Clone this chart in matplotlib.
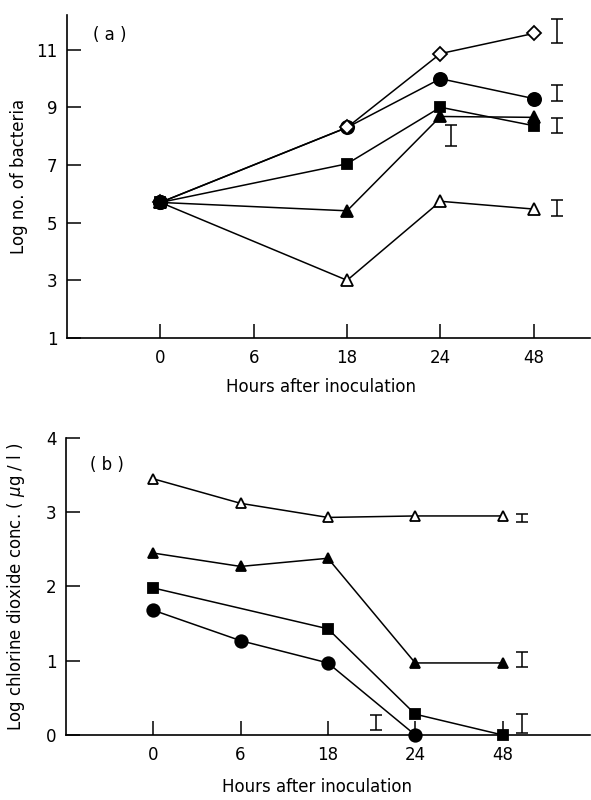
import numpy as np
import matplotlib
matplotlib.use("Agg")
import matplotlib.pyplot as plt

plt.rcParams['font.family'] = ['DejaVu Sans']
plt.rcParams['mathtext.fontset'] = 'dejavusans'

hours = ["0", "6", "18", "24", "48"]

# Panel (a): log number of bacteria (position index -> value); NaN = no point
a_open_diamond = [5.7, np.nan, 8.3, 10.86, 11.56]
a_fill_circle = [5.7, np.nan, 8.3, 9.99, 9.3]
a_fill_square = [5.7, np.nan, 7.04, 9.0, 8.36]
a_fill_triangle = [5.7, np.nan, 5.41, 8.68, 8.65]
a_open_triangle = [5.7, np.nan, 3.0, 5.74, 5.47]

# error bars (a): centers and half-lengths
a_err_center = [11.65, 9.48, 8.38, 5.52, 8.02]
a_err_half = [0.42, 0.28, 0.26, 0.28, 0.35]
a_err_xpos = [4.25, 4.25, 4.25, 4.25, 3.11]

# Panel (b): log chlorine dioxide conc.
b_open_triangle = [3.45, 3.12, 2.93, 2.95, 2.95]
b_fill_triangle = [2.45, 2.27, 2.38, 0.97, 0.97]
b_fill_square = [1.98, np.nan, 1.43, 0.28, 0.0]
b_fill_circle = [1.68, 1.27, 0.97, 0.0, np.nan]

b_err_center = [2.92, 1.02, 0.15, 0.17]
b_err_half = [0.05, 0.10, 0.13, 0.10]
b_err_xpos = [4.22, 4.22, 4.22, 2.55]

FS = 12

fig = plt.figure(figsize=(5.91, 8.0), dpi=100)
axa = fig.add_axes([0.1134, 0.5775, 0.8846, 0.4038])
axb = fig.add_axes([0.1117, 0.0813, 0.8863, 0.3712])

lw = 1.1


def series(ax, vals, marker, filled, ms):
    x = np.arange(len(vals), dtype=float)
    v = np.array(vals, dtype=float)
    m = ~np.isnan(v)
    ax.plot(x[m], v[m], color='black', lw=lw, marker=marker, ms=ms,
            markerfacecolor='black' if filled else 'white',
            markeredgecolor='black', markeredgewidth=1.3, clip_on=False, zorder=3)


def style(ax, ylim, yticks, xlim):
    for s in ['top', 'right']:
        ax.spines[s].set_visible(False)
    for s in ['left', 'bottom']:
        ax.spines[s].set_linewidth(1.2)
    ax.set_xlim(*xlim)
    ax.set_ylim(*ylim)
    ax.set_xticks(range(len(hours)))
    ax.set_xticklabels(hours)
    ax.set_yticks(yticks)
    ax.set_yticklabels([str(t) for t in yticks])
    ax.tick_params(axis='both', direction='in', length=10, width=1.1, labelsize=FS)
    ax.tick_params(axis='x', pad=8)
    ax.tick_params(axis='y', pad=7)


series(axa, a_open_triangle, '^', False, 8)
series(axa, a_fill_triangle, '^', True, 8)
series(axa, a_fill_square, 's', True, 7)
series(axa, a_fill_circle, 'o', True, 9.5)
series(axa, a_open_diamond, 'D', False, 7.5)
series(axa, a_fill_circle[:1], 'o', True, 9.5)
axa.errorbar(a_err_xpos, a_err_center, yerr=a_err_half, fmt='none', ecolor='black',
             elinewidth=1.1, capsize=4.5, capthick=1.1)
style(axa, (1, 12.2), [1, 3, 5, 7, 9, 11], (-1.0, 4.6))
axa.set_ylabel("Log no. of bacteria", fontsize=FS)
axa.yaxis.set_label_coords(-0.075, 0.5)
axa.set_xlabel("Hours after inoculation", fontsize=FS)
axa.xaxis.set_label_coords(0.485, -0.125)
axa.text(0.05, 0.965, "( a )", transform=axa.transAxes, fontsize=FS, va='top')

series(axb, b_open_triangle, '^', False, 7.5)
series(axb, b_fill_triangle, '^', True, 7.5)
series(axb, b_fill_square, 's', True, 7)
series(axb, b_fill_circle, 'o', True, 9)
axb.errorbar(b_err_xpos, b_err_center, yerr=b_err_half, fmt='none', ecolor='black',
             elinewidth=1.1, capsize=4.5, capthick=1.1)
style(axb, (0, 4), [0, 1, 2, 3, 4], (-1.0, 5.0))
axb.set_ylabel("Log chlorine dioxide conc. ( $\\mu$g / l )", fontsize=FS)
axb.yaxis.set_label_coords(-0.075, 0.5)
axb.set_xlabel("Hours after inoculation", fontsize=FS)
axb.xaxis.set_label_coords(0.48, -0.145)
axb.text(0.045, 0.94, "( b )", transform=axb.transAxes, fontsize=FS, va='top')

fig.savefig("out.png", dpi=100)
